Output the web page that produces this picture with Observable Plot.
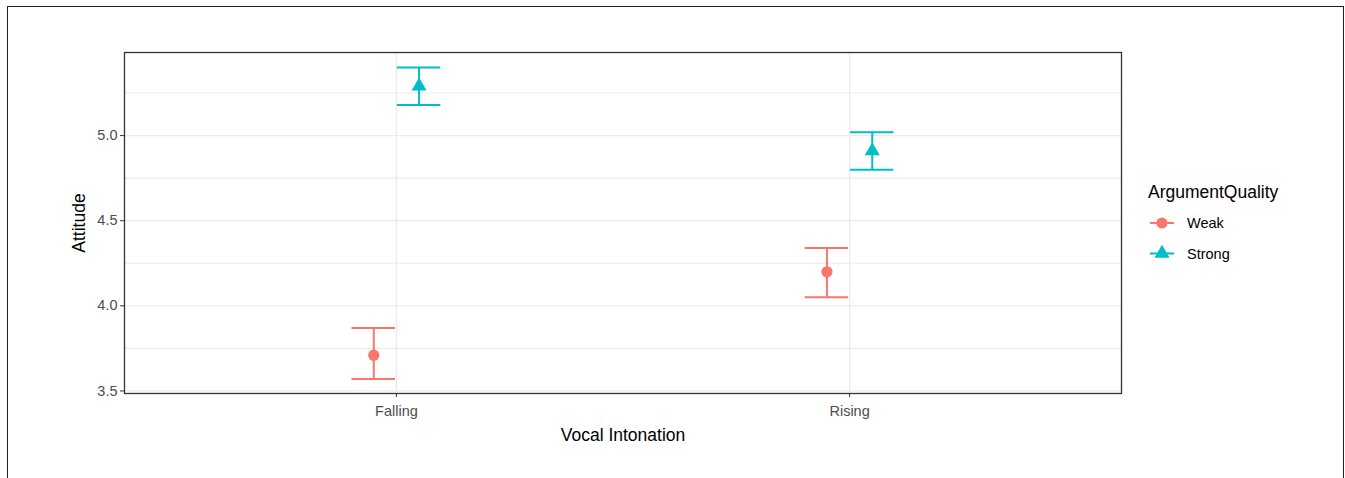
<!DOCTYPE html>
<html><head><meta charset="utf-8">
<script src="https://cdn.jsdelivr.net/npm/d3@7"></script>
<script src="https://cdn.jsdelivr.net/npm/@observablehq/plot@0.6"></script>
<style>
html,body{margin:0;padding:0;background:#fff;overflow:hidden}
#wrap{position:relative;width:1345px;height:478px;font-family:"Liberation Sans",Arial,sans-serif}
#border{position:absolute;left:7px;top:6px;width:1337px;height:530px;border:1.8px solid #222;box-sizing:border-box}
#chart{position:absolute;left:0;top:0}
#legend{position:absolute;left:0;top:0}
g[aria-label="y-axis label"], g[aria-label="x-axis label"]{font-size:17.5px;fill:#000}
</style>
</head><body>
<div id="wrap"><div id="border"></div><div id="chart"></div><svg id="legend" width="1345" height="478"></svg></div>
<script>
// ---- data ----
const categories = ["Falling", "Rising"];
const groups = ["Weak", "Strong"];
const intonation = ["Falling", "Falling", "Rising", "Rising"];
const quality = ["Weak", "Strong", "Weak", "Strong"];
const attitude = [3.71, 5.29, 4.20, 4.91];
const lower = [3.57, 5.18, 4.05, 4.80];
const upper = [3.87, 5.40, 4.34, 5.02];
const yTicks = [3.5, 4.0, 4.5, 5.0];
const yMinor = [3.75, 4.25, 4.75, 5.25];
const colors = ["#F8766D", "#00BFC4"];
const shapes = ["circle", "triangle"];

const dodge = 0.05, capHalf = 0.048;
const catPos = categories.map((c, i) => i + 1);
const data = attitude.map((v, i) => ({
  intonation: intonation[i], quality: quality[i], attitude: v, lower: lower[i], upper: upper[i],
  x: categories.indexOf(intonation[i]) + 1 + (quality[i] === groups[0] ? -dodge : dodge)
}));

const font = '"Liberation Sans", Arial, sans-serif';
const chart = Plot.plot({
  width: 1345, height: 478,
  marginLeft: 124, marginRight: 224, marginTop: 52, marginBottom: 85,
  style: {fontFamily: font, fontSize: "14.5px", color: "#4d4d4d", background: "transparent"},
  x: {domain: [0.4, 2.6]},
  y: {domain: [3.485, 5.488]},
  color: {domain: groups, range: colors},
  symbol: {domain: groups, range: shapes},
  marks: [
    Plot.ruleY(yMinor, {stroke: "#ebebeb", strokeWidth: 1.1}),
    Plot.ruleY(yTicks, {stroke: "#ebebeb", strokeWidth: 1.3}),
    Plot.ruleX(catPos, {stroke: "#ebebeb", strokeWidth: 1.3}),
    Plot.ruleX(data, {x: "x", y1: "lower", y2: "upper", stroke: "quality", strokeWidth: 2}),
    Plot.ruleY(data, {y: "lower", x1: d => d.x - capHalf, x2: d => d.x + capHalf, stroke: "quality", strokeWidth: 2}),
    Plot.ruleY(data, {y: "upper", x1: d => d.x - capHalf, x2: d => d.x + capHalf, stroke: "quality", strokeWidth: 2}),
    Plot.dot(data, {x: "x", y: "attitude", fill: "quality", symbol: "quality", r: 5.6, stroke: null}),
    Plot.frame({stroke: "#333", strokeWidth: 1.3}),
    Plot.axisY({ticks: yTicks, tickFormat: d3.format(".1f"), tickSize: 4, tickPadding: 3, stroke: "#333",
      label: "Attitude", labelAnchor: "center", labelOffset: 52, labelArrow: "none"}),
    Plot.axisX({ticks: catPos, tickFormat: d => categories[d - 1], tickSize: 4, tickPadding: 8, stroke: "#333",
      label: "Vocal Intonation", labelAnchor: "center", labelOffset: 47, labelArrow: "none"})
  ]
});
document.getElementById("chart").append(chart);

// ---- legend ----
const lg = d3.select("#legend").style("font-family", font);
lg.append("text").attr("x", 1148).attr("y", 198).attr("font-size", 17.5).attr("fill", "#000").text("ArgumentQuality");
groups.forEach((g, i) => {
  const cy = 223 + i * 30.5;
  lg.append("line").attr("x1", 1150).attr("x2", 1174).attr("y1", cy).attr("y2", cy)
    .attr("stroke", colors[i]).attr("stroke-width", 2);
  const sym = shapes[i] === "circle" ? d3.symbolCircle : d3.symbolTriangle;
  lg.append("path").attr("d", d3.symbol(sym, Math.PI * 5.6 * 5.6)()).attr("transform", `translate(1162,${cy})`).attr("fill", colors[i]);
  lg.append("text").attr("x", 1187).attr("y", cy).attr("dy", "0.35em").attr("font-size", 14.5).attr("fill", "#000").text(g);
});
</script>
</body></html>
